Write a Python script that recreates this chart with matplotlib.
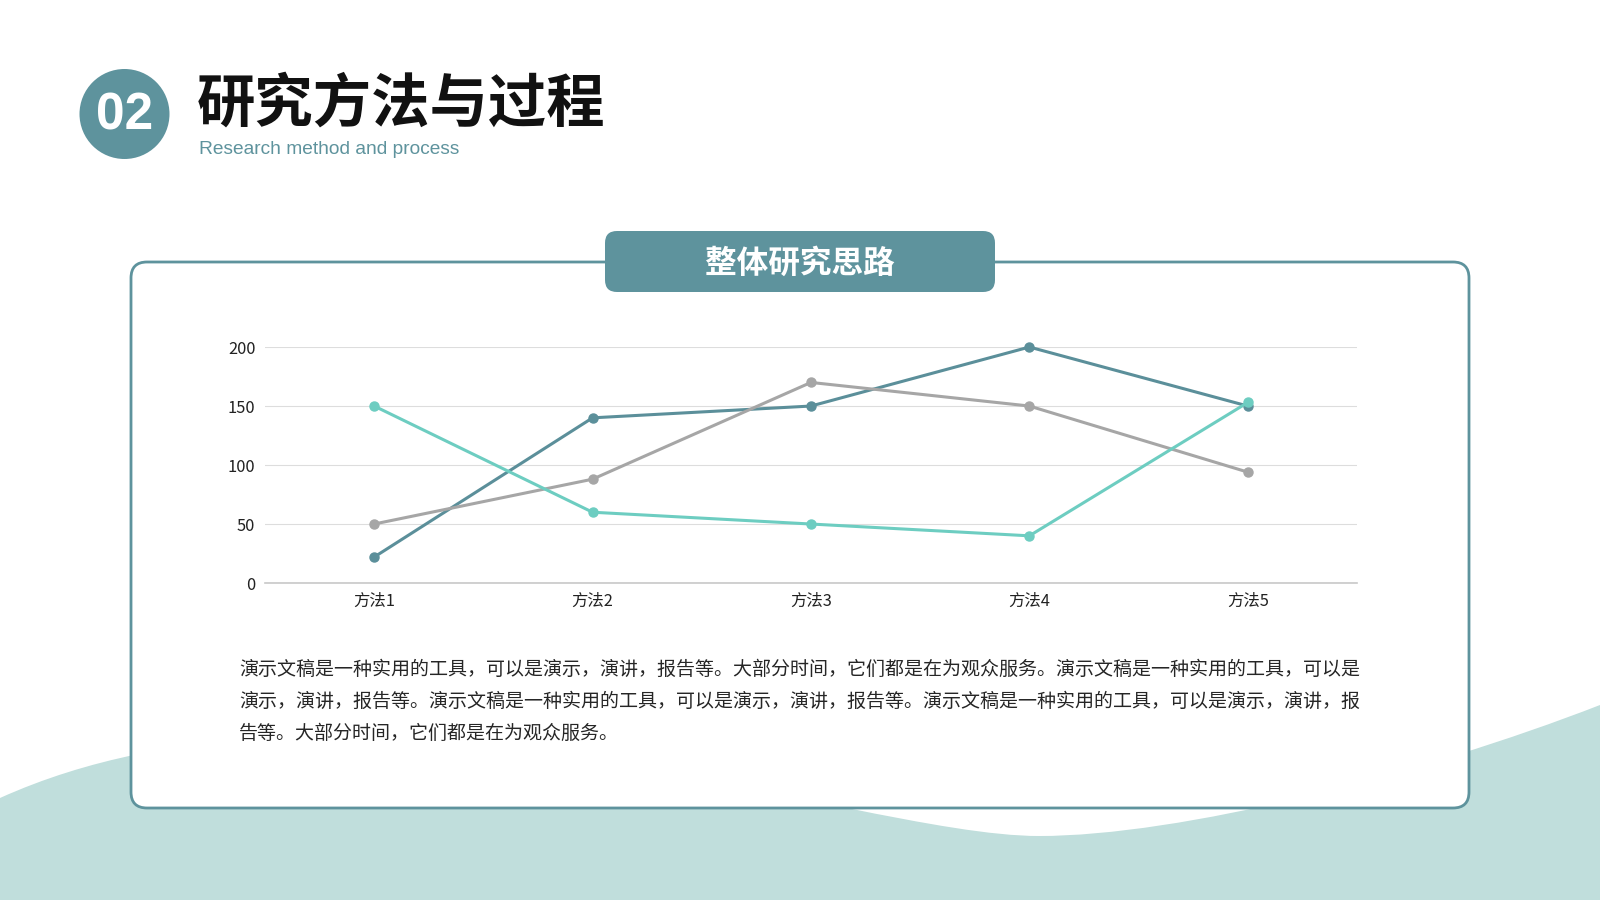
import matplotlib
matplotlib.use('Agg')
from matplotlib import pyplot as plt
from matplotlib.patches import FancyBboxPatch, Circle, PathPatch
from matplotlib.path import Path

plt.rcParams['font.family'] = ['Noto Sans CJK SC', 'DejaVu Sans']

# ---- data
categories = ['方法1', '方法2', '方法3', '方法4', '方法5']
series_dark = [22, 140, 150, 200, 150]
series_gray = [50, 88, 170, 150, 94]
series_light = [150, 60, 50, 40, 153]
y_ticks = [0, 50, 100, 150, 200]

title = '研究方法与过程'
subtitle = 'Research method and process'
badge = '02'
tab_title = '整体研究思路'
para_lines = [
  '演示文稿是一种实用的工具，可以是演示，演讲，报告等。大部分时间，它们都是在为观众服务。演示文稿是一种实用的工具，可以是',
  '演示，演讲，报告等。演示文稿是一种实用的工具，可以是演示，演讲，报告等。演示文稿是一种实用的工具，可以是演示，演讲，报',
  '告等。大部分时间，它们都是在为观众服务。',
]

TEAL = '#5E939D'
WAVE = '#C0DEDC'
colors = ['#5B8F9A', '#A6A6A6', '#6DCDC1']

fig = plt.figure(figsize=(16, 9), dpi=100)

# ---- background canvas in pixel units
bg = fig.add_axes([0, 0, 1, 1])
bg.set_xlim(0, 1600)
bg.set_ylim(900, 0)
bg.axis('off')
bg.set_zorder(0)

# wave at the bottom
verts = [(0, 798), (350, 640), (850, 836), (1039, 836),
         (1180, 836), (1420, 775), (1600, 705),
         (1600, 900), (0, 900), (0, 798)]
codes = [Path.MOVETO, Path.CURVE4, Path.CURVE4, Path.CURVE4,
         Path.CURVE4, Path.CURVE4, Path.CURVE4,
         Path.LINETO, Path.LINETO, Path.CLOSEPOLY]
bg.add_patch(PathPatch(Path(verts, codes), facecolor=WAVE, edgecolor='none', zorder=1))

# main white box
bg.add_patch(FancyBboxPatch((131, 262), 1338, 546,
    boxstyle='round,pad=0,rounding_size=16',
    facecolor='white', edgecolor=TEAL, linewidth=2.0, zorder=2))

# tab on the box
bg.add_patch(FancyBboxPatch((605, 231), 390, 61,
    boxstyle='round,pad=0,rounding_size=12',
    facecolor=TEAL, edgecolor='none', zorder=3))
bg.text(800, 264, tab_title, color='white', fontsize=22.8, fontweight='bold',
        ha='center', va='center', zorder=4)

# header
bg.add_patch(Circle((124.5, 114), 45, facecolor=TEAL, edgecolor='none', zorder=2))
bg.text(124.5, 116, badge, color='white', fontsize=37, fontweight='bold',
        family=['Liberation Sans', 'DejaVu Sans'], ha='center', va='center', zorder=3)
bg.text(197, 105, title, color='#111111', fontsize=42, fontweight='black',
        ha='left', va='center', zorder=3)
bg.text(199, 150, subtitle, color=TEAL, fontsize=13.8,
        family=['Liberation Sans', 'DejaVu Sans'], ha='left', va='center', zorder=3)

# paragraph
for i, line in enumerate(para_lines):
  bg.text(239, 669 + i * 32, line, color='#262626', fontsize=13.7,
          ha='left', va='center', zorder=3)

# ---- line chart
ax = fig.add_axes([0.1656, 0.3522, 0.6825, 0.2622])
ax.set_zorder(5)
ax.patch.set_visible(False)

xx = range(len(categories))
for vals, col in zip([series_dark, series_gray, series_light], colors):
  ax.plot(xx, vals, color=col, linewidth=2.2, marker='o', markersize=6.5,
          clip_on=False, solid_capstyle='round')

ax.set_xlim(-0.5, len(categories) - 0.5)
ax.set_ylim(0, 200)
ax.set_yticks(y_ticks)
ax.set_xticks(list(xx))
ax.set_xticklabels(categories)
ax.grid(axis='y', color='#DDDDDD', linewidth=0.8)
ax.set_axisbelow(True)
for s in ['top', 'right', 'left']:
  ax.spines[s].set_visible(False)
ax.spines['bottom'].set_color('#C8C8C8')
ax.spines['bottom'].set_linewidth(1.2)
ax.tick_params(axis='both', length=0, labelsize=11.8, colors='#222222')
ax.tick_params(axis='y', pad=7)
ax.tick_params(axis='x', pad=7)

fig.savefig('out.png', dpi=100)
